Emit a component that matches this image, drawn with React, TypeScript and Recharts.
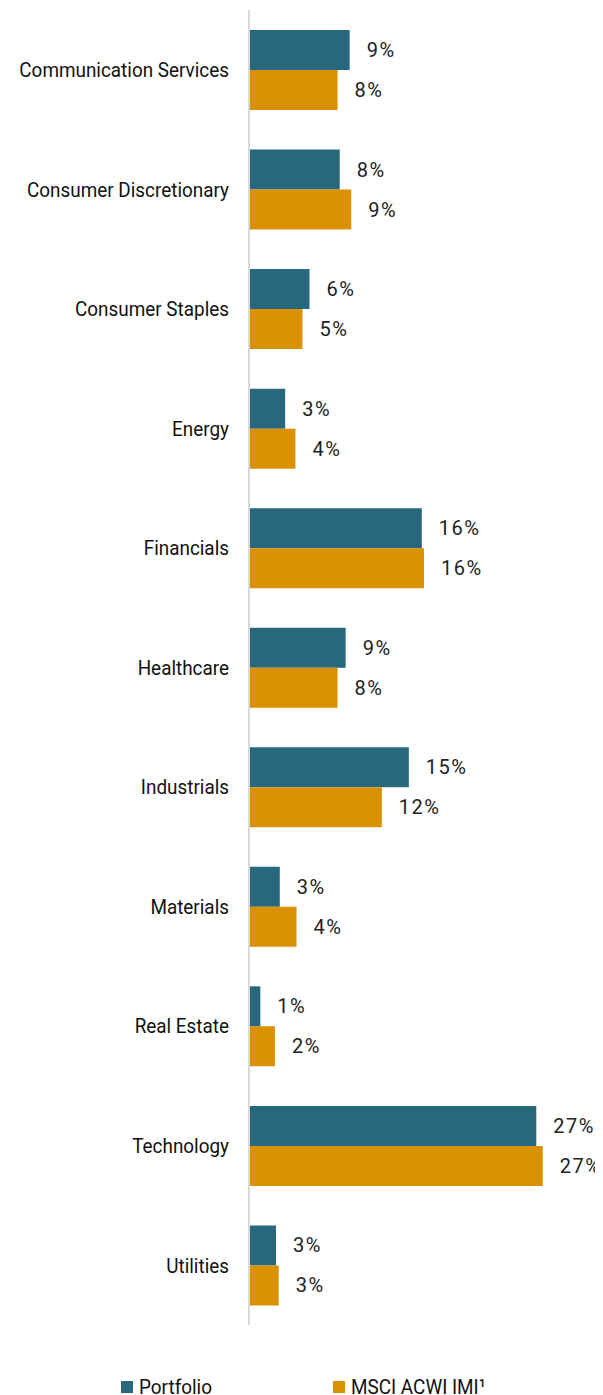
import { BarChart, Bar, XAxis, YAxis, Legend, LabelList } from 'recharts';

const sectors = [
  'Communication Services',
  'Consumer Discretionary',
  'Consumer Staples',
  'Energy',
  'Financials',
  'Healthcare',
  'Industrials',
  'Materials',
  'Real Estate',
  'Technology',
  'Utilities',
];
const portfolio = [9.32, 8.4, 5.6, 3.35, 16.0, 8.95, 14.8, 2.85, 1.05, 26.6, 2.5];
const msciAcwiImi = [8.2, 9.47, 4.95, 4.3, 16.2, 8.2, 12.3, 4.4, 2.4, 27.2, 2.75];
const seriesNames = ['Portfolio', 'MSCI ACWI IMI¹'];

const data = sectors.map((name, i) => ({ name, portfolio: portfolio[i], msci: msciAcwiImi[i] }));

const FONT = 'Roboto, "Noto Sans", sans-serif';
const SQUEEZE = 0.9;

const BLUE = '#27687f';
const GOLD = '#da9100';

function CategoryTick(props: any) {
  const { x, y, payload } = props;
  return (
    <text
      transform={`translate(${x},${y}) scale(${SQUEEZE},1)`}
      textAnchor="end"
      dominantBaseline="central"
      fontSize={21}
      fill="#111"
      fontFamily={FONT}
    >
      {payload.value}
    </text>
  );
}

function ValueLabel(props: any) {
  const { x, y, width, height, value } = props;
  return (
    <text
      x={x + width + 17}
      y={y + height / 2}
      dominantBaseline="central"
      fontSize={20}
      fill="#222"
      letterSpacing={1.5}
      fontFamily={FONT}
    >
      {Math.round(value)}%
    </text>
  );
}

function LegendBox({ payload }: any) {
  const lefts = [121, 333];
  const items = seriesNames.map((n) => (payload || []).find((p: any) => p.value === n)).filter(Boolean);
  return (
    <div style={{ position: 'relative', width: 603, height: 26, fontFamily: FONT, fontSize: 21, color: '#111' }}>
      {items.map((p: any, i: number) => (
        <div key={p.value} style={{ position: 'absolute', left: lefts[i], top: 0, display: 'flex', alignItems: 'center', whiteSpace: 'nowrap' }}>
          <span style={{ display: 'inline-block', width: 12, height: 12, background: p.color, marginRight: 6 }} />
          <span style={{ display: 'inline-block', transform: `scaleX(${SQUEEZE})`, transformOrigin: 'left center' }}>{p.value}</span>
        </div>
      ))}
    </div>
  );
}

export default function App() {
  return (
    <div style={{ margin: '-8px 0 0 -8px', width: 603, height: 1395, background: '#fff' }}>
      <BarChart
        width={603}
        height={1395}
        data={data}
        layout="vertical"
        margin={{ top: 10, right: 30, left: 0, bottom: 70 }}
        barSize={40}
        barGap={0}
      >
        <XAxis type="number" domain={[0, 30]} hide />
        <YAxis
          type="category"
          dataKey="name"
          width={249}
          axisLine={{ stroke: '#d9d9d9', strokeWidth: 2 }}
          tickLine={false}
          tickSize={0}
          tickMargin={20}
          tick={<CategoryTick />}
          interval={0}
        />
        <Legend
          verticalAlign="middle"
          layout="horizontal"
          wrapperStyle={{ top: 1375, left: 0, width: 603 }}
          content={<LegendBox />}
        />
        <Bar dataKey="portfolio" name={seriesNames[0]} fill={BLUE} isAnimationActive={false}>
          <LabelList dataKey="portfolio" content={<ValueLabel />} />
        </Bar>
        <Bar dataKey="msci" name={seriesNames[1]} fill={GOLD} isAnimationActive={false}>
          <LabelList dataKey="msci" content={<ValueLabel />} />
        </Bar>
      </BarChart>
    </div>
  );
}
